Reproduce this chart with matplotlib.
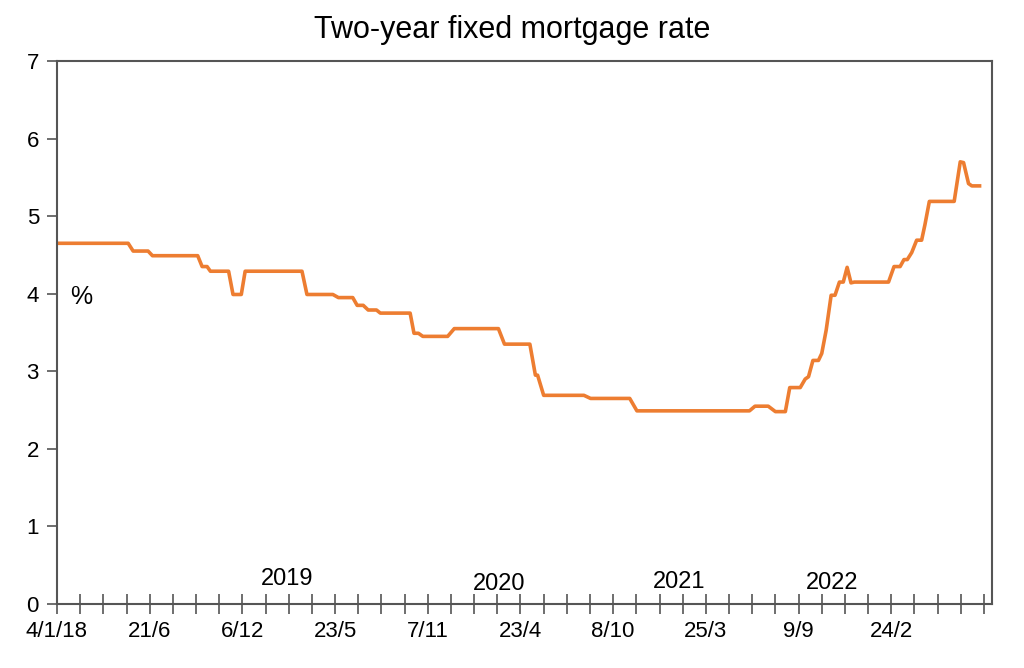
import matplotlib
matplotlib.use("Agg")
import matplotlib.pyplot as plt
import matplotlib.dates as mdates
import numpy as np
import datetime as dt

plt.rcParams['font.family'] = ['Liberation Sans', 'DejaVu Sans']

dates = [
    "2018-01-04", "2018-05-13", "2018-05-22", "2018-06-18", "2018-06-26", "2018-09-16",
    "2018-09-24", "2018-10-03", "2018-10-09", "2018-11-11", "2018-11-19", "2018-12-04",
    "2018-12-11", "2019-03-24", "2019-04-02", "2019-05-19", "2019-05-29", "2019-06-24",
    "2019-07-02", "2019-07-13", "2019-07-22", "2019-08-06", "2019-08-13", "2019-10-06",
    "2019-10-13", "2019-10-21", "2019-10-29", "2019-12-13", "2019-12-25", "2020-03-14",
    "2020-03-25", "2020-05-10", "2020-05-20", "2020-05-24", "2020-06-04", "2020-08-16",
    "2020-08-28", "2020-11-07", "2020-11-20", "2021-06-12", "2021-06-22", "2021-07-16",
    "2021-07-29", "2021-08-16", "2021-08-24", "2021-09-12", "2021-09-21", "2021-09-27",
    "2021-10-05", "2021-10-15", "2021-10-21", "2021-10-29", "2021-11-07", "2021-11-14",
    "2021-11-22", "2021-11-29", "2021-12-06", "2021-12-13", "2021-12-19", "2022-02-19",
    "2022-03-01", "2022-03-12", "2022-03-19", "2022-03-25", "2022-04-02", "2022-04-11",
    "2022-04-20", "2022-04-26", "2022-05-04", "2022-06-18", "2022-06-29", "2022-07-05",
    "2022-07-14", "2022-07-20", "2022-08-03",
]
rates = [
    4.65, 4.65, 4.55, 4.55, 4.49, 4.49,
    4.35, 4.35, 4.29, 4.29, 3.99, 3.99,
    4.29, 4.29, 3.99, 3.99, 3.95, 3.95,
    3.85, 3.85, 3.79, 3.79, 3.75, 3.75,
    3.49, 3.49, 3.45, 3.45, 3.55, 3.55,
    3.35, 3.35, 2.95, 2.95, 2.69, 2.69,
    2.65, 2.65, 2.49, 2.49, 2.55, 2.55,
    2.48, 2.48, 2.79, 2.79, 2.90, 2.93,
    3.14, 3.14, 3.23, 3.53, 3.98, 3.98,
    4.15, 4.15, 4.34, 4.14, 4.15, 4.15,
    4.35, 4.35, 4.44, 4.44, 4.53, 4.69,
    4.69, 4.89, 5.19, 5.19, 5.70, 5.69,
    5.42, 5.39, 5.39,
]

year_labels = ["2019", "2020", "2021", "2022"]
year_label_pos = ["2019-02-25", "2020-03-15", "2021-02-05", "2021-11-09"]
year_label_y = [0.32, 0.26, 0.28, 0.27]

start = dt.date(2018, 1, 4)
end = dt.date(2022, 8, 25)

x = mdates.date2num([dt.date.fromisoformat(d) for d in dates])

fig = plt.figure(figsize=(10.24, 6.68), dpi=100)
ax = fig.add_axes([57/1024, 64/668, (991.7-57)/1024, 543/668])

ax.plot(x, rates, color="#ED7D31", lw=2.6, solid_joinstyle="round")

ax.set_xlim(mdates.date2num(start), mdates.date2num(end))
ax.set_ylim(0, 7)
ax.set_yticks(range(0, 8))
ax.tick_params(axis='y', direction='out', length=7, width=1.2, labelsize=16, pad=6, color="#555555")

major = [start + dt.timedelta(days=168*i) for i in range(11)]
minor = [start + dt.timedelta(days=42*i) for i in range(41)]
major_lbl = ["4/1/18"] + [f"{d.day}/{d.month}" for d in major[1:]]
ax.set_xticks(mdates.date2num(minor), minor=True)
ax.set_xticks(mdates.date2num(major[:10]))
ax.set_xticklabels(major_lbl[:10])
ax.tick_params(axis='x', which='both', direction='inout', length=15, width=1.2, labelsize=16, pad=5, color="#555555")

for s in ax.spines.values():
    s.set_color("#555555")
    s.set_linewidth(1.5)

for lbl, pos, yy in zip(year_labels, year_label_pos, year_label_y):
    ax.text(mdates.date2num(dt.date.fromisoformat(pos)), yy, lbl, ha='center', va='center', fontsize=17)

ax.text(0.026, 0.565, "%", transform=ax.transAxes, ha='center', va='center', fontsize=18)

fig.text(0.5, 1 - 30/668, "Two-year fixed mortgage rate", ha='center', va='center', fontsize=22)

fig.savefig("out.png", dpi=100)
